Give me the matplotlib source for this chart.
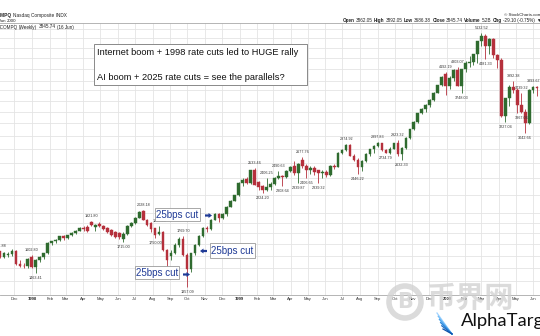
import matplotlib
matplotlib.use("Agg")
import matplotlib.pyplot as plt
import matplotlib.dates as mdates
from matplotlib import font_manager
from matplotlib.patches import Rectangle, Circle, FancyArrow
from matplotlib.transforms import IdentityTransform
import pandas as pd

# --------------------------------------------------
# DATA  ($COMPQ weekly candles, Nov 1997 - Jun 2000)
# --------------------------------------------------

first_week = "1997-11-10"

opens = [1635, 1590, 1605, 1612, 1640, 1532, 1518, 1512,
         1590, 1503, 1560, 1585, 1619, 1710, 1722, 1735, 1771, 1752, 1778, 1802, 1822, 1852, 1858, 1905,
         1862, 1890, 1868, 1850, 1830, 1810, 1800, 1745, 1795, 1870, 1900, 1950, 2020, 1932, 1895, 1846,
         1795, 1812, 1645, 1595, 1622, 1695, 1745, 1605, 1492, 1620, 1690, 1771, 1850, 1840, 1930, 1990,
         1950, 1985, 2065, 2130,
         2193, 2344, 2390, 2338, 2505, 2350, 2300, 2250, 2288, 2330, 2400, 2430, 2420, 2490, 2560, 2460,
         2640, 2560, 2510, 2530, 2500, 2470, 2480, 2440, 2560, 2550, 2740, 2780, 2860, 2700, 2640, 2550,
         2620, 2720, 2790, 2840, 2880, 2780, 2740, 2800, 2880, 2730, 2816, 2966, 3102, 3221, 3369, 3447,
         3520, 3620, 3753, 3904,
         4131, 3882, 4064, 4235, 3887, 4244, 4395, 4411, 4590, 4914, 5048, 4798, 4963, 4572, 4446, 3321,
         3643, 3860, 3817, 3529, 3390, 3205, 3813, 3874.84]
highs = [1641.88, 1628, 1630, 1655, 1648, 1560, 1535, 1582,
         1602.80, 1570, 1595, 1625, 1715, 1730, 1740, 1775, 1778, 1785, 1810, 1830, 1858, 1868, 1875, 1921.80,
         1885, 1905, 1880, 1862, 1840, 1820, 1810, 1805, 1880, 1910, 1960, 2015, 2028.18, 1940, 1905, 1852,
         1866.04, 1818, 1652, 1648, 1705, 1760, 1769.70, 1625, 1625, 1700, 1780, 1860, 1870, 1935, 1995, 2000,
         2000, 2075, 2140, 2200,
         2350, 2400, 2410, 2510, 2533.46, 2360, 2320, 2406.25, 2350, 2420, 2490.63, 2445, 2500, 2560, 2620, 2600,
         2677.76, 2590, 2560, 2560, 2510, 2500, 2500, 2570, 2580, 2745, 2800, 2874.92, 2865, 2720, 2660, 2640,
         2740, 2800, 2850, 2897.83, 2890, 2800, 2830, 2890, 2923.32, 2830, 2970, 3110, 3230, 3375, 3460, 3530,
         3630, 3760, 3910, 4090,
         4192.19, 4100, 4240, 4303.07, 4250, 4430, 4550, 4600, 4915, 5132.52, 5100, 5000, 5000, 4600, 4500, 3650,
         3900, 3992.38, 3850, 3739.32, 3450, 3820, 3893.67, 3892.05]
lows = [1580, 1580, 1590, 1600, 1525, 1505, 1495, 1500,
        1495, 1463.41, 1550, 1570, 1615, 1695, 1712, 1728, 1735, 1740, 1770, 1795, 1815, 1822, 1805, 1870,
        1815, 1860, 1830, 1800, 1770, 1755, 1745, 1715.00, 1785, 1860, 1890, 1945, 1925, 1865, 1810, 1750.00,
        1785, 1638, 1499, 1560, 1610, 1670, 1595, 1357.09, 1470, 1605, 1680, 1765, 1810, 1830, 1925, 1910,
        1935, 1970, 2060, 2125,
        2190, 2300, 2330, 2330, 2310, 2260, 2224.20, 2240, 2260, 2320, 2390, 2308.64, 2400, 2480, 2440, 2339.87,
        2530, 2406.65, 2450, 2440, 2339.32, 2400, 2410, 2430, 2520, 2545, 2730, 2760, 2690, 2620, 2446.22, 2490,
        2610, 2700, 2740, 2820, 2760, 2734.79, 2720, 2790, 2700, 2632.33, 2800, 2950, 3080, 3200, 3350, 3400,
        3480, 3600, 3740, 3890,
        3711, 3820, 4000, 3881, 3748.03, 4180, 4300, 4330, 4390, 4800, 4481.33, 4600, 4500, 4283, 3300, 3227.04,
        3500, 3750, 3380, 3367.06, 3042.66, 3180, 3740, 3686.38]
closes = [1590, 1620, 1612, 1640, 1532, 1518, 1512, 1575,
          1503, 1560, 1585, 1619, 1710, 1722, 1735, 1771, 1752, 1778, 1802, 1822, 1852, 1835, 1815, 1880,
          1878, 1868, 1842, 1812, 1785, 1765, 1760, 1795, 1870, 1900, 1950, 2005, 1932, 1875, 1842, 1785,
          1808, 1645, 1566, 1622, 1695, 1745, 1605, 1492, 1620, 1690, 1771, 1850, 1840, 1930, 1990, 1950,
          1985, 2065, 2130, 2193,
          2344, 2380, 2338, 2505, 2320, 2290, 2250, 2288, 2330, 2400, 2430, 2420, 2490, 2550, 2460, 2590,
          2560, 2510, 2530, 2480, 2470, 2480, 2440, 2560, 2550, 2740, 2780, 2860, 2700, 2640, 2550, 2620,
          2720, 2790, 2840, 2880, 2780, 2740, 2800, 2880, 2730, 2816, 2966, 3102, 3221, 3369, 3447, 3520,
          3620, 3753, 3904, 4069,
          3882, 4064, 4235, 3887, 4244, 4395, 4411, 4590, 4914, 5048, 4798, 4963, 4572, 4446, 3321, 3643,
          3860, 3817, 3529, 3390, 3205, 3813, 3874.84, 3845.74]

# swing high / low flags printed on the chart
flag_weeks = ["1997-11-10", "1998-01-05", "1998-01-12", "1998-04-20", "1998-06-15", "1998-07-20",
              "1998-08-10", "1998-08-17", "1998-09-28", "1998-10-05",
              "1999-02-01", "1999-02-15", "1999-02-22", "1999-03-15", "1999-03-22", "1999-04-19",
              "1999-04-26", "1999-05-03", "1999-05-24", "1999-07-12", "1999-08-02", "1999-09-06",
              "1999-09-20", "1999-10-11", "1999-10-18",
              "2000-01-03", "2000-01-24", "2000-01-31", "2000-03-06", "2000-03-13", "2000-04-17",
              "2000-05-01", "2000-05-15", "2000-05-15", "2000-05-22", "2000-06-05"]
flag_values = [1641.88, 1602.80, 1463.41, 1921.80, 1715.00, 2028.18,
               1750.00, 1866.04, 1769.70, 1357.09,
               2533.46, 2224.20, 2406.25, 2490.63, 2308.64, 2339.87,
               2677.76, 2406.65, 2339.32, 2874.92, 2446.22, 2897.83,
               2734.79, 2923.32, 2632.33,
               4192.19, 4303.07, 3748.03, 5132.52, 4481.33, 3227.04,
               3992.38, 3739.32, 3367.06, 3042.66, 3893.67]
flag_above = [1, 1, 0, 1, 0, 1, 0, 1, 1, 0,
              1, 0, 1, 1, 0, 0, 1, 0, 0, 1, 0, 1, 0, 1, 0,
              1, 1, 0, 1, 0, 0, 1, 1, 0, 0, 1]

note_lines = ["Internet boom + 1998 rate cuts led to HUGE rally",
              "AI boom + 2025 rate cuts = see the parallels?"]
cut_label = "25bps cut"

grid_levels = [1400, 1500, 1600, 1700, 1800, 1900, 2000, 2200, 2400, 2600, 2800, 3000,
               3200, 3400, 3600, 3800, 4000, 4250, 4500, 4750, 5000, 5250]

# --------------------------------------------------
# STYLE
# --------------------------------------------------

W, H = 540, 336
UP = "#2f6b2f"
DOWN = "#b5303c"
NAVY = "#1f3a96"
GRID = "#e4e4e4"

names = {f.name for f in font_manager.fontManager.ttflist}
NARROW = "Liberation Sans Narrow" if "Liberation Sans Narrow" in names else "Liberation Sans"
NOTE_SIZE = 8 if NARROW != "Liberation Sans" else 6.7
CUT_SIZE = 8.3 if NARROW != "Liberation Sans" else 7.0
SANS = ["Liberation Sans", "DejaVu Sans"]


def py(y):
    # image row (from top) -> figure pixels (from bottom)
    return H - y


def main():
    fig = plt.figure(figsize=(W / 100, H / 100), dpi=100, facecolor="white")
    ax = fig.add_axes([0, 1 - 295 / H, 1, (295 - 23) / H])

    weeks = pd.date_range(first_week, periods=len(opens), freq="7D")
    xs = mdates.date2num(weeks)
    base = mdates.date2num(pd.Timestamp("1998-01-01"))

    ax.set_yscale("log")
    ax.set_xlim(base - 51.9, base + 898.0)
    ax.set_ylim(1301, 5409)
    ax.xaxis.set_major_locator(matplotlib.ticker.NullLocator())
    ax.xaxis.set_minor_locator(matplotlib.ticker.NullLocator())
    ax.yaxis.set_major_locator(matplotlib.ticker.NullLocator())
    ax.yaxis.set_minor_locator(matplotlib.ticker.NullLocator())
    for side in ["left", "right"]:
        ax.spines[side].set_visible(False)
    for side in ["top", "bottom"]:
        ax.spines[side].set_color("#a8a8a8")
        ax.spines[side].set_linewidth(0.6)

    # month grid + labels
    months = pd.date_range("1997-12-01", "2000-06-01", freq="MS")
    mx = mdates.date2num(months) + 4.4
    ax.vlines(mx, 1301, 5409, color=GRID, lw=0.6, zorder=0)
    ax.hlines(grid_levels, base - 60, base + 900, color=GRID, lw=0.6, zorder=0)
    for m, x in zip(months, mx):
        if m.month == 1:
            ax.text(x, -0.015, str(m.year), transform=ax.get_xaxis_transform(),
                    ha="center", va="center", fontsize=3.0, fontweight="bold",
                    family=SANS, color="#222222")
        else:
            ax.text(x, -0.015, m.strftime("%b"), transform=ax.get_xaxis_transform(),
                    ha="center", va="center", fontsize=3.0, family=SANS, color="#333333")

    # candles
    for x, o, h, l, c in zip(xs, opens, highs, lows, closes):
        col = UP if c >= o else DOWN
        ax.vlines(x, l, h, color=col, lw=0.6, zorder=2)
        ax.bar(x, abs(c - o), bottom=min(o, c), width=4.6, color=col,
               edgecolor=col, lw=0.3, zorder=3)

    # price flags
    fx = mdates.date2num(pd.to_datetime(flag_weeks))
    for x, v, up in zip(fx, flag_values, flag_above):
        ax.annotate(f"{v:.2f}", (x, v), xytext=(0, 3.6 if up else -3.6),
                    textcoords="offset points", ha="center", va="center",
                    fontsize=2.7, family=SANS, color="#333333", zorder=4)

    # header texts
    renderer = fig.canvas.get_renderer()

    def runs(x, y, parts, size, align="left", gap=1.2):
        arts, widths = [], []
        for txt, bold in parts:
            t = fig.text(0, 0, txt, fontsize=size, family=SANS, color="#222222",
                         fontweight="bold" if bold else "normal",
                         transform=IdentityTransform(), va="center", ha="left")
            arts.append(t)
            widths.append(t.get_window_extent(renderer).width)
        total = sum(widths) + gap * (len(parts) - 1)
        cx = x - total if align == "right" else x
        for t, w in zip(arts, widths):
            t.set_position((cx, py(y)))
            cx += w + gap

    runs(-9.5, 15.5, [("$COMPQ", 1), ("Nasdaq Composite INDX", 0)], 3.4)
    runs(-7.5, 21, [("16-Jun", 0), ("2000", 0)], 3.2)
    runs(-2.3, 27, [("$COMPQ", 0), ("(Weekly)", 0), ("3845.74", 0), ("(16 Jun)", 0)], 3.3)
    runs(541, 15, [("\u00a9 StockCharts.com", 0)], 3.2, align="right")
    runs(541, 20.5, [("Open", 1), ("3862.05", 0), ("High", 1), ("3892.05", 0),
                     ("Low", 1), ("3686.38", 0), ("Close", 1), ("3845.74", 0),
                     ("Volume", 1), ("5.2B", 0), ("Chg", 1), ("-29.10 (-0.75%)", 0),
                     ("\u25bc", 0)], 3.3, align="right")

    # commentary box
    fig.add_artist(Rectangle((95, py(86)), 213, 42, transform=IdentityTransform(),
                             facecolor="#b0b0b0", edgecolor="none", zorder=5))
    fig.add_artist(Rectangle((94, py(85)), 213, 41, transform=IdentityTransform(),
                             facecolor="white", edgecolor="#8a8a8a", lw=0.7, zorder=6))
    fig.text(97, py(52.5), note_lines[0], transform=IdentityTransform(), family=NARROW,
             fontsize=NOTE_SIZE, va="center", ha="left", color="#111111", zorder=7)
    fig.text(97, py(77), note_lines[1], transform=IdentityTransform(), family=NARROW,
             fontsize=NOTE_SIZE, va="center", ha="left", color="#111111", zorder=7)

    # rate cut call-outs: box (left, top, right, bottom) and arrow (x0, x1, y)
    boxes = [(155, 208, 200, 221), (210, 243, 255, 258), (135, 266, 179, 279)]
    arrows = [(205, 212, 215.5), (207, 200, 251), (183, 190, 274.5)]
    for (l, t, r, b), (a0, a1, ay) in zip(boxes, arrows):
        fig.add_artist(Rectangle((l, py(b)), r - l, b - t, transform=IdentityTransform(),
                                 facecolor="white", edgecolor="#9a9a9a", lw=0.6, zorder=6))
        fig.text((l + r) / 2, py((t + b) / 2 + 0.5), cut_label, transform=IdentityTransform(),
                 family=NARROW, fontsize=CUT_SIZE, ha="center", va="center", color=NAVY, zorder=7)
        fig.add_artist(FancyArrow(a0, py(ay), a1 - a0, 0, width=2.2, head_width=5,
                                  head_length=3.5, length_includes_head=True,
                                  transform=IdentityTransform(), color=NAVY, lw=0, zorder=7))

    # watermark
    fig.add_artist(Circle((405, py(302)), 16, transform=IdentityTransform(), fill=False,
                          edgecolor="#d2d2d2", lw=4, alpha=0.8, zorder=8))
    fig.text(405, py(302), "B", transform=IdentityTransform(), fontsize=15, fontweight="bold",
             color="#d2d2d2", alpha=0.8, ha="center", va="center", family="DejaVu Sans", zorder=8)
    fig.text(470, py(298), "币界网", transform=IdentityTransform(), fontsize=21,
             fontweight="bold", color="#d0d0d0", alpha=0.75, ha="center", va="center",
             family=["Noto Sans CJK SC", "DejaVu Sans"], zorder=8)

    # AlphaTarget logo
    blues = ["#9fd3ff", "#74bdf7", "#4aa2ec", "#2b86da", "#1a6bc4", "#0f53a8"]
    for i, col in enumerate(blues):
        x0, y0 = 452, 334
        x1, y1 = 437 + i * 1.2, 313 + i * 3.2
        fig.add_artist(matplotlib.lines.Line2D([x0, x1], [py(y0), py(y1)], color=col, lw=0.9,
                                               transform=IdentityTransform(), zorder=9))
    fig.text(461, py(321), "AlphaTarget", transform=IdentityTransform(), fontsize=13.3,
             family=["Lato", "Noto Sans", "DejaVu Sans"], color="#111111",
             ha="left", va="center", zorder=9)

    fig.savefig("out.png", dpi=100, facecolor="white")
    plt.close(fig)


if __name__ == "__main__":
    main()
